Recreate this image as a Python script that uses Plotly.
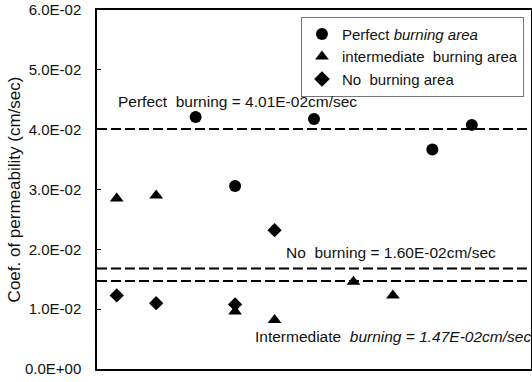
import plotly.graph_objects as go

# Data
perfect_x = [3, 4, 6, 9, 10]
perfect_y = [0.0421, 0.0306, 0.0418, 0.0367, 0.0408]

inter_x = [1, 2, 4, 5, 7, 8]
inter_y = [0.0285, 0.0290, 0.0096, 0.0082, 0.0146, 0.0123]

noburn_x = [1, 2, 4, 5]
noburn_y = [0.0123, 0.0110, 0.0108, 0.0232]

ref_names = ["Perfect  burning = 4.01E-02cm/sec",
             "No  burning = 1.60E-02cm/sec",
             "Intermediate  <i>burning = 1.47E-02cm/sec</i>"]
ref_values = [0.0401, 0.0168, 0.0147]

tick_vals = [0.0, 0.01, 0.02, 0.03, 0.04, 0.05, 0.06]
tick_text = ["0.0E+00", "1.0E-02", "2.0E-02", "3.0E-02", "4.0E-02", "5.0E-02", "6.0E-02"]

FONT = "Liberation Sans, Arial, sans-serif"

fig = go.Figure()
fig.add_trace(go.Scatter(x=perfect_x, y=perfect_y, mode="markers", name="Perfect <i>burning area</i>",
                         marker=dict(symbol="circle", size=12, color="black")))
fig.add_trace(go.Scatter(x=inter_x, y=inter_y, mode="markers", name="intermediate  burning area",
                         marker=dict(symbol="triangle-up", size=12, color="black")))
fig.add_trace(go.Scatter(x=noburn_x, y=noburn_y, mode="markers", name="No  burning area",
                         marker=dict(symbol="diamond", size=11, color="black")))

for v in ref_values:
    fig.add_shape(type="line", xref="paper", x0=0, x1=1, yref="y", y0=v, y1=v,
                  line=dict(color="black", width=2, dash="10px,4px"), layer="below")

fig.add_annotation(x=0.98, y=ref_values[0], yshift=28, text=ref_names[0], showarrow=False,
                   xanchor="left", font=dict(size=15.5, color="#111", family=FONT))
fig.add_annotation(x=5.25, y=ref_values[1], yshift=16, text=ref_names[1], showarrow=False,
                   xanchor="left", font=dict(size=15.5, color="#111", family=FONT))
fig.add_annotation(x=4.45, y=ref_values[2], yshift=-55, text=ref_names[2], showarrow=False,
                   xanchor="left", font=dict(size=15.5, color="#111", family=FONT))

fig.update_layout(
    width=532, height=382,
    margin=dict(l=97, r=1, t=10, b=13, autoexpand=False),
    paper_bgcolor="white", plot_bgcolor="white",
    font=dict(family=FONT, size=14, color="#111"),
    showlegend=True,
    legend=dict(x=0.47, y=0.981, xanchor="left", yanchor="top",
                bgcolor="white", bordercolor="#777", borderwidth=1,
                font=dict(size=15, family=FONT), itemwidth=30,
                tracegroupgap=0, itemsizing="constant"),
    xaxis=dict(range=[0.5, 11.5], showticklabels=False, ticks="", showgrid=False,
               zeroline=False, showline=True, linecolor="black", linewidth=1.5, mirror=True),
    yaxis=dict(range=[0, 0.06], tickvals=tick_vals, ticktext=tick_text, ticks="inside",
               ticklen=4, tickcolor="black", showgrid=False, zeroline=False, showline=True,
               linecolor="black", linewidth=1.5, mirror=True, ticklabelstandoff=11,
               automargin=False,
               tickfont=dict(size=15, family=FONT),
               title=dict(text="Coef. of permeability (cm/sec)", font=dict(size=17, family=FONT),
                          standoff=0)),
)

fig.write_html("out.html")
